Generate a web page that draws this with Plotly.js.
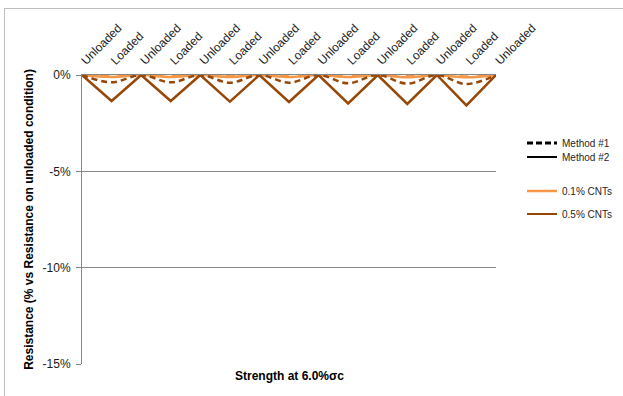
<!DOCTYPE html>
<html>
<head>
<meta charset="utf-8">
<script src="https://cdn.plot.ly/plotly-3.0.1.min.js"></script>
<style>
  html, body { margin: 0; padding: 0; background: #fff; }
  #wrap { position: relative; width: 623px; height: 396px; overflow: hidden; }
  #frame { position: absolute; left: 4px; top: 8px; right: -2px; bottom: -2px;
           border-left: 1px solid #bfbfbf; border-top: 1px solid #bfbfbf; }
  #chart { position: absolute; left: 0; top: 0; width: 623px; height: 396px; }
</style>
</head>
<body>
<div id="wrap">
  <div id="frame"></div>
  <div id="chart"></div>
</div>
<script>
// Load cycle stages (category labels along the top axis)
const stages = ['Unloaded', 'Loaded', 'Unloaded', 'Loaded', 'Unloaded', 'Loaded', 'Unloaded',
                'Loaded', 'Unloaded', 'Loaded', 'Unloaded', 'Loaded', 'Unloaded', 'Loaded', 'Unloaded'];

// Resistance change (%) relative to the unloaded condition
const cnt01_method1 = [0, -0.06, 0, -0.06, 0, -0.06, 0, -0.07, 0, -0.07, 0, -0.07, 0, -0.08, 0];
const cnt01_method2 = [0, -0.10, 0, -0.10, 0, -0.10, 0, -0.11, 0, -0.11, 0, -0.12, 0, -0.12, 0];
const cnt05_method1 = [0, -0.38, 0, -0.38, 0, -0.40, 0, -0.40, 0, -0.43, 0, -0.45, 0, -0.47, 0];
const cnt05_method2 = [0, -1.35, 0, -1.35, 0, -1.38, 0, -1.40, 0, -1.48, 0, -1.50, 0, -1.58, 0];

const yTicks = [0, -5, -10, -15];
const yTickText = ['0%', '-5%', '-10%', '-15%'];

const LIGHT = '#F79646';
const DARK = '#974706';

const xPos = stages.map((_, i) => i);

const W = 623, H = 396;
const M = { l: 82, r: 127, t: 75, b: 32 };

const sans = 'Liberation Sans, Arial, sans-serif';

const traces = [
  { x: xPos, y: cnt01_method1, mode: 'lines', showlegend: false, hoverinfo: 'skip',
    line: { color: LIGHT, width: 2.5, dash: 'dash', shape: 'spline' } },
  { x: xPos, y: cnt01_method2, mode: 'lines', showlegend: false, hoverinfo: 'skip',
    line: { color: LIGHT, width: 2.5, shape: 'spline' } },
  { x: xPos, y: cnt05_method1, mode: 'lines', showlegend: false, hoverinfo: 'skip',
    line: { color: DARK, width: 2.5, dash: '6px,4px', shape: 'spline' } },
  { x: xPos, y: cnt05_method2, mode: 'lines', showlegend: false, hoverinfo: 'skip',
    line: { color: DARK, width: 2.5 } },

  // legend keys
  { x: [null], y: [null], mode: 'lines', name: 'Method #1', legend: 'legend',
    line: { color: '#000', width: 3, dash: '6px,3px' } },
  { x: [null], y: [null], mode: 'lines', name: 'Method #2', legend: 'legend2',
    line: { color: '#000', width: 2 } },
  { x: [null], y: [null], mode: 'lines', name: '0.1% CNTs', legend: 'legend3',
    line: { color: LIGHT, width: 2.5 } },
  { x: [null], y: [null], mode: 'lines', name: '0.5% CNTs', legend: 'legend4',
    line: { color: DARK, width: 2 } }
];

const tickFont = { family: sans, size: 12, color: '#1a1a1a' };
const titleFont = { family: sans, size: 12, color: '#000' };

// legend entries placed in page pixels (container reference)
function legendAt(yPix) {
  return {
    xref: 'container', yref: 'container',
    x: 522 / W, xanchor: 'left',
    y: 1 - yPix / H, yanchor: 'middle',
    font: { family: sans, size: 10, color: '#262626' },
    bgcolor: 'rgba(0,0,0,0)',
    itemwidth: 30
  };
}

const layout = {
  width: W,
  height: H,
  margin: M,
  paper_bgcolor: 'rgba(0,0,0,0)',
  plot_bgcolor: 'rgba(0,0,0,0)',
  font: tickFont,
  xaxis: {
    side: 'top',
    range: [0, 14],
    tickvals: xPos,
    ticktext: stages,
    tickangle: -45,
    tickfont: tickFont,
    ticklabelstandoff: 2,
    showgrid: false,
    zeroline: false,
    showline: true,
    linecolor: '#868686',
    linewidth: 1,
    ticks: '',
    automargin: false,
    fixedrange: true
  },
  yaxis: {
    range: [-15, 0],
    tickvals: yTicks,
    ticktext: yTickText,
    tickfont: tickFont,
    ticklabelstandoff: 3,
    showgrid: true,
    gridcolor: '#868686',
    gridwidth: 1,
    zeroline: false,
    showline: true,
    linecolor: '#868686',
    ticks: 'outside',
    ticklen: 5,
    tickcolor: '#868686',
    automargin: false,
    title: {
      text: '<b>Resistance (% vs Resistance on unloaded condition)</b>',
      font: titleFont,
      standoff: 6
    },
    fixedrange: true
  },
  legend: legendAt(143),
  legend2: legendAt(157),
  legend3: legendAt(191),
  legend4: legendAt(214),
  showlegend: true,
  annotations: [{
    // x-axis title sits below the plot area
    text: '<b>Strength at 6.0%σc</b>',
    xref: 'paper', yref: 'paper', x: 0.5, y: 0, yshift: -12,
    showarrow: false, xanchor: 'center', yanchor: 'middle',
    font: titleFont
  }]
};

Plotly.newPlot('chart', traces, layout, { displayModeBar: false, staticPlot: true });
</script>
</body>
</html>
